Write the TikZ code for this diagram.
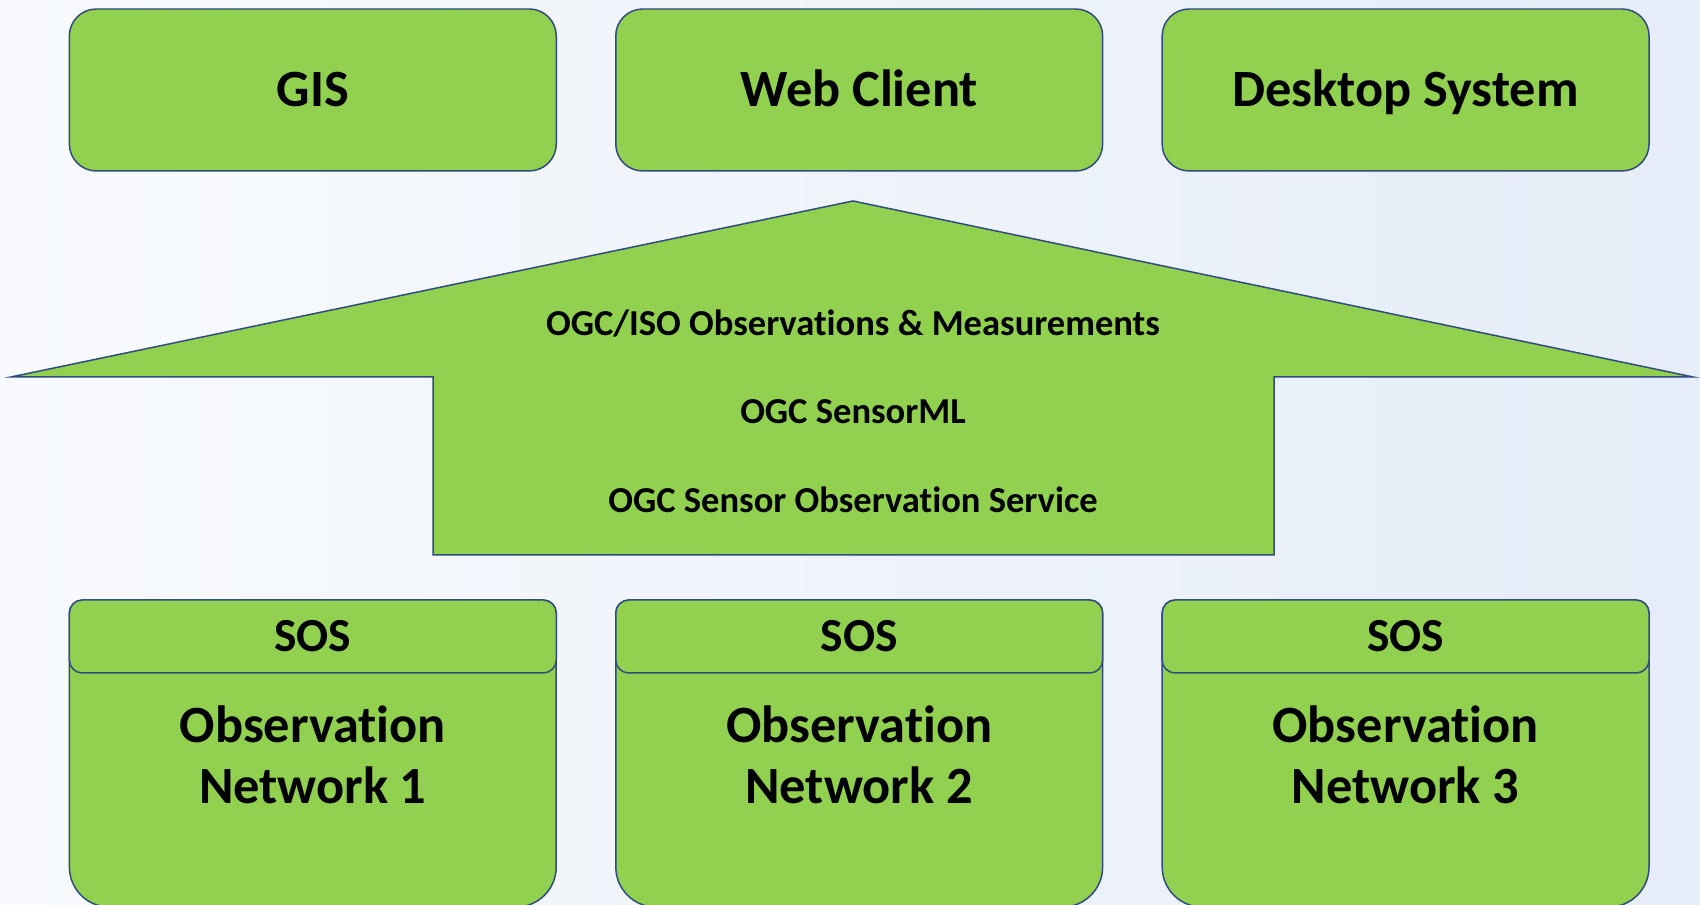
\documentclass[tikz,border=0pt]{standalone}
\usepackage{fontspec}
\setmainfont[Ligatures=NoCommon]{Carlito}
\usetikzlibrary{positioning}
\definecolor{boxgreen}{HTML}{92D050}
\definecolor{boxline}{HTML}{2F4B7F}
\definecolor{bgleft}{HTML}{F8FAFD}
\definecolor{bgright}{HTML}{E6EDF8}

\begin{document}
\begin{tikzpicture}[
    x=0.02cm, y=0.02cm,
    client/.style={draw=boxline, fill=boxgreen, line width=0.85pt, rounded corners=0.54cm, minimum width=9.74cm, minimum height=3.24cm, inner sep=0pt, text height=19.2pt, text depth=0pt, font=\bfseries\fontsize{29.8}{35}\selectfont},
    soshead/.style={draw=boxline, fill=boxgreen, line width=0.85pt, rounded corners=0.26cm, minimum width=9.74cm, minimum height=1.46cm, inner sep=0pt, text height=17.4pt, text depth=0pt, font=\bfseries\fontsize{27}{32}\selectfont},
    netbody/.style={draw=boxline, fill=boxgreen, line width=0.85pt},
    nettext/.style={align=center, font=\bfseries\fontsize{29.8}{34.5}\selectfont},
    stdtext/.style={font=\bfseries\fontsize{20.8}{24}\selectfont},
    upshape/.style={draw=boxline, fill=boxgreen, line width=0.85pt, line join=miter}
  ]
    \shade[left color=bgleft, right color=bgright] (0,0) rectangle (1700,905);
    \useasboundingbox (0,0) rectangle (1700,905);
    \clip (0,0) rectangle (1700,905);

    % Clients
    \node[client] (gis) at (312.8,815) {GIS};
    \node[client] (web) at (859.2,815) {Web Client};
    \node[client] (desk) at (1405.6,815) {Desktop System};

    % Standards arrow
    \draw[upshape] (433,350) -- (433,528) -- (11,528) -- (853,704) -- (1693,528) -- (1274,528) -- (1274,350) -- cycle;
    \node[stdtext] (om) at (853,581) {OGC/ISO Observations \& Measurements};
    \node[stdtext] (sml) at (853,493) {OGC SensorML};
    \node[stdtext] (sosvc) at (853,405) {OGC Sensor Observation Service};

    % Observation networks
    \draw[netbody] (69.4,38) -- (69.4,292) arc[start angle=180, end angle=90, radius=0.26cm] -- (543.2,305) arc[start angle=90, end angle=0, radius=0.26cm] -- (556.2,38) arc[start angle=0, end angle=-90, radius=0.8cm] -- (109.4,-2) arc[start angle=270, end angle=180, radius=0.8cm] -- cycle;
    \draw[netbody] (615.8,38) -- (615.8,292) arc[start angle=180, end angle=90, radius=0.26cm] -- (1089.6,305) arc[start angle=90, end angle=0, radius=0.26cm] -- (1102.6,38) arc[start angle=0, end angle=-90, radius=0.8cm] -- (655.8,-2) arc[start angle=270, end angle=180, radius=0.8cm] -- cycle;
    \draw[netbody] (1162.2,38) -- (1162.2,292) arc[start angle=180, end angle=90, radius=0.26cm] -- (1636,305) arc[start angle=90, end angle=0, radius=0.26cm] -- (1649,38) arc[start angle=0, end angle=-90, radius=0.8cm] -- (1202.2,-2) arc[start angle=270, end angle=180, radius=0.8cm] -- cycle;

    \node[soshead] (sos1) at (312.8,268.5) {SOS};
    \node[soshead] (sos2) at (859.2,268.5) {SOS};
    \node[soshead] (sos3) at (1405.6,268.5) {SOS};

    \node[nettext] (net1) at (312.8,150) {Observation\\Network 1};
    \node[nettext] (net2) at (859.2,150) {Observation\\Network 2};
    \node[nettext] (net3) at (1405.6,150) {Observation\\Network 3};
  \end{tikzpicture}
\end{document}
